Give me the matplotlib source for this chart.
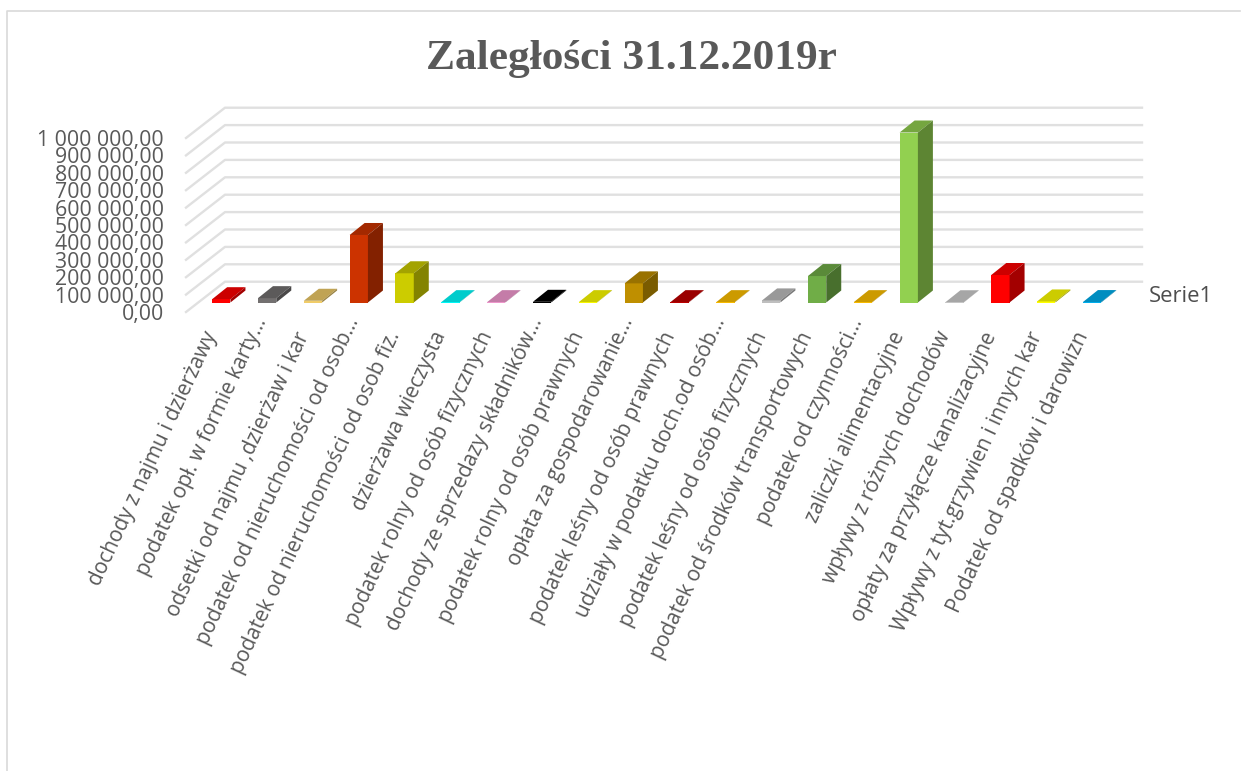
import numpy as np
import matplotlib
matplotlib.use('Agg')
import matplotlib.pyplot as plt
from matplotlib.lines import Line2D
from matplotlib.transforms import ScaledTranslation

W, H = 1246, 771

labels = ['dochody z najmu i dzierżawy', 'podatek opł. w formie karty...',
          'odsetki od najmu ,dzierżaw i kar', 'podatek od nieruchomości od osob...',
          'podatek od nieruchomości od osob fiz.', 'dzierżawa wieczysta',
          'podatek rolny od osób fizycznych', 'dochody ze sprzedazy składników...',
          'podatek rolny od osób prawnych', 'opłata za gospodarowanie...',
          'podatek leśny od osób prawnych', 'udziały w podatku doch.od osób...',
          'podatek leśny od osób fizycznych', 'podatek od środków transportowych',
          'podatek od czynności...', 'zaliczki alimentacyjne',
          'wpływy z różnych dochodów', 'opłaty za przyłącze kanalizacyjne',
          'Wpływy z tyt.grzywien i innych kar', 'Podatek od spadków i darowizn']
values = [19000, 25000, 10000, 388000, 168000, 2000, 2000, 4000, 2000, 110000,
          2000, 2000, 12000, 152000, 2000, 977000, 1500, 158000, 6000, 2500]
colors = ['#ff0000', '#737070', '#f0cc69', '#cc3300', '#cccc00', '#00ffff',
          '#f59bd2', '#000000', '#ffff00', '#bf8f00', '#c00000', '#ffc000',
          '#bfbfbf', '#70ad47', '#ffc000', '#92d050', '#d0d0d0', '#ff0000',
          '#ffff00', '#00b0f0']
yticks = np.arange(0, 1000001, 100000)
yticklabels = ['0,00', '100 000,00', '200 000,00', '300 000,00', '400 000,00',
               '500 000,00', '600 000,00', '700 000,00', '800 000,00',
               '900 000,00', '1 000 000,00']

# pixels per unit of the two axes
px_x = 45.83
px_y = 174 / 1000000

# plot box in pixels, the floor front edge is the bottom
left, right, top, bottom = 186, 1142, 100, 312
x0 = 221.3  # centre of first bar

plt.rcParams['font.family'] = ['Open Sans', 'DejaVu Sans']

fig = plt.figure(figsize=(W / 100, H / 100), dpi=100)
ax = fig.add_axes([left / W, 1 - bottom / H, (right - left) / W, (bottom - top) / H])
ax.set_xlim((left - x0) / px_x, (right - x0) / px_x)
ax.set_ylim(0, (bottom - top) / px_y)
for s in ax.spines.values():
    s.set_visible(False)
ax.patch.set_alpha(0)

# gridlines: side wall slant + back wall
xa = ax.get_xlim()[0]
xb = ax.get_xlim()[1]
wall_dx = 39 / px_x
wall_dy = 30.3 / px_y
for v in yticks:
    ax.plot([xa, xa + wall_dx, xb], [v, v + wall_dy, v + wall_dy], color='#e0e0e0',
            lw=1.7, zorder=1, clip_on=False, solid_joinstyle='round')

# 3d bars
lift = 9.5 / px_y
dx = 15 / px_x
dy = 12 / px_y
w = 18.3 / px_x
x = np.arange(len(values))
ax.bar(x, values, width=w, bottom=lift, color=colors, zorder=3, linewidth=0)
for i, v in enumerate(values):
    c = np.array(matplotlib.colors.to_rgb(colors[i]))
    xl, xr = i - w / 2, i + w / 2
    yb, yt = lift, lift + v
    ax.fill([xl, xr, xr + dx, xl + dx], [yt, yt, yt + dy, yt + dy], color=c * 0.8, lw=0, zorder=3)
    ax.fill([xr, xr + dx, xr + dx, xr], [yb, yb + dy, yt + dy, yt], color=c * 0.64, lw=0, zorder=3)

ax.set_yticks(yticks, yticklabels, fontsize=15.3, color='#595959')
ax.set_xticks(x, labels, fontsize=15, color='#595959', rotation=65, ha='right',
              va='center', rotation_mode='anchor')
ax.tick_params(axis='y', length=0, pad=15.8)
ax.tick_params(axis='x', length=0, pad=15)

# labels sit left of the bar centre, the cut off ones reach further up
for lab in ax.get_xticklabels():
    if lab.get_text().endswith('...'):
        shift = ScaledTranslation(-5 / 100, 14 / 100, fig.dpi_scale_trans)
    else:
        shift = ScaledTranslation(-9 / 100, 0, fig.dpi_scale_trans)
    lab.set_transform(lab.get_transform() + shift)

fig.text(631 / W, 1 - 69.5 / H, 'Zaległości 31.12.2019r', family='Liberation Serif', weight='bold',
         fontsize=31.2, color='#595959', ha='center', va='baseline')
fig.text(1149 / W, 1 - 297 / H, 'Serie1', fontsize=15.8, color='#4d4d4d', ha='left', va='center')

# chart border, only top and left are visible
fig.add_artist(Line2D([7 / W, 7 / W, 1240 / W], [0, 1 - 10.5 / H, 1 - 10.5 / H], color='#d9d9d9', lw=1.2))

fig.savefig('out.png', dpi=100)
